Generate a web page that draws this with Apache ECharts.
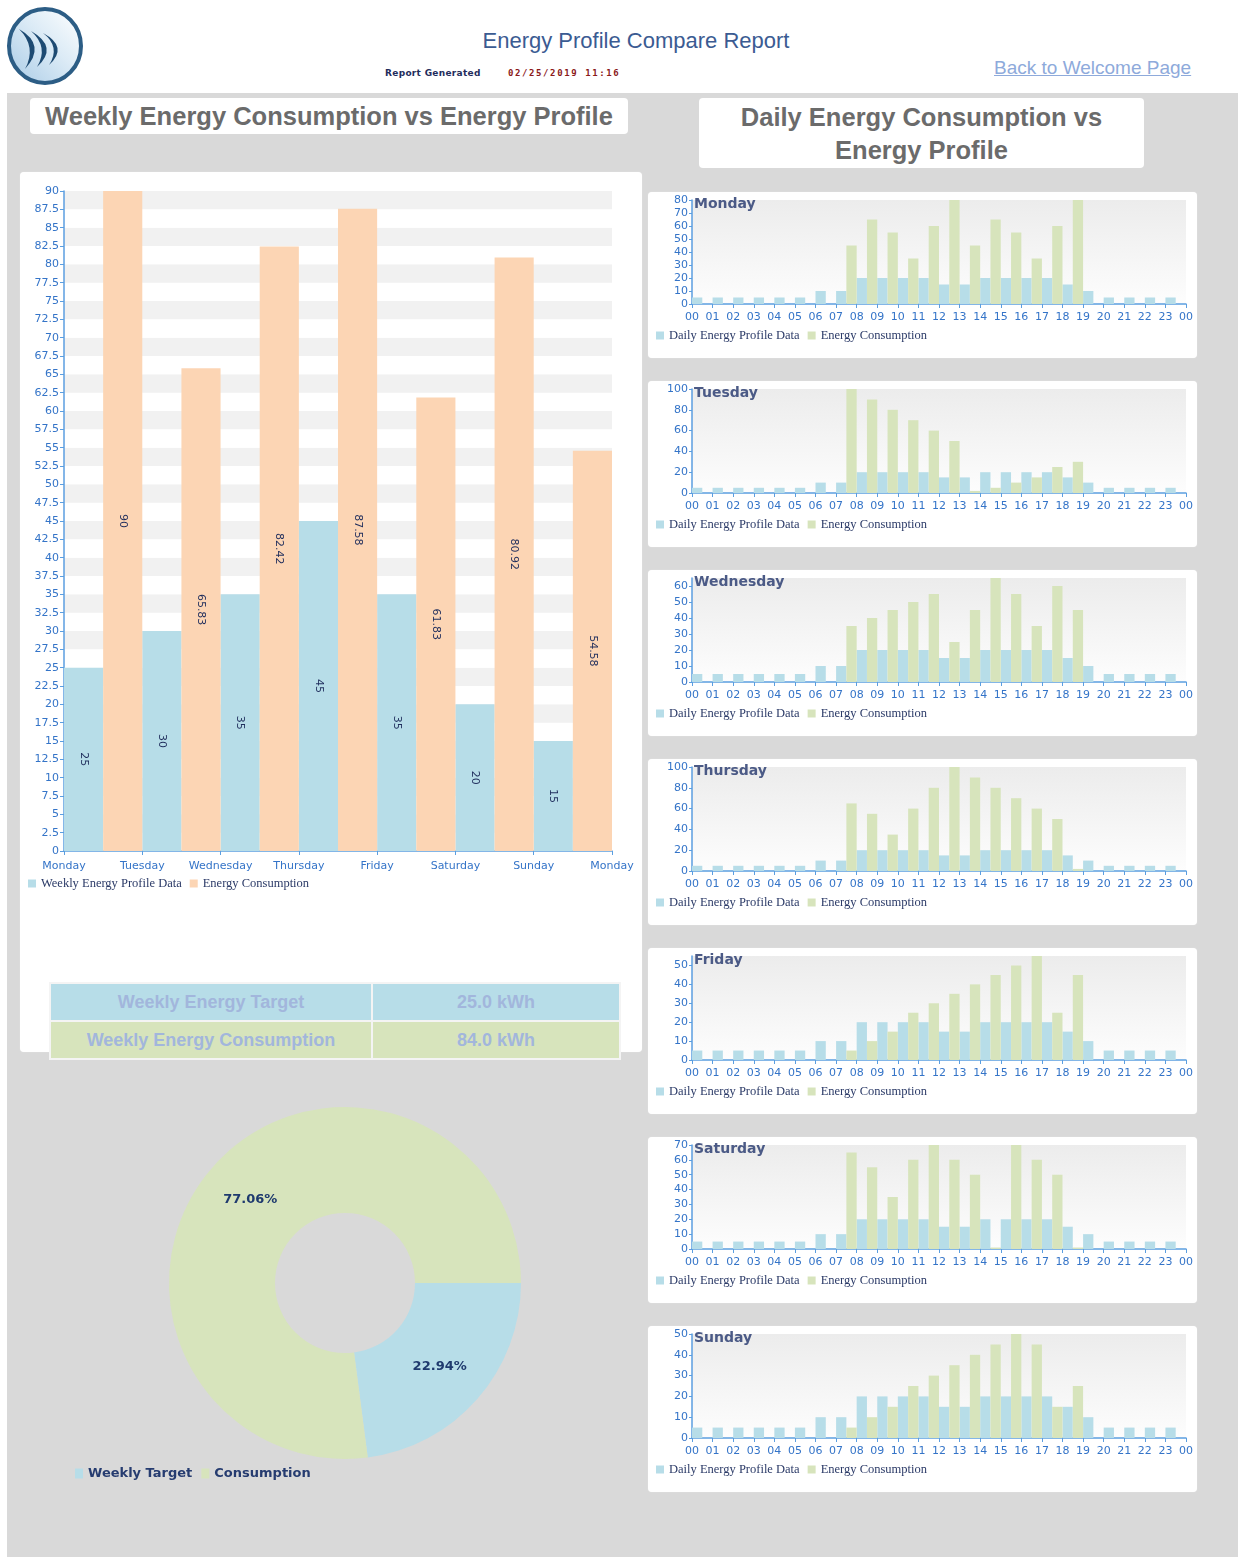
<!DOCTYPE html>
<html><head><meta charset="utf-8">
<script src="https://cdn.jsdelivr.net/npm/echarts@6/dist/echarts.min.js"></script>
<style>
body{margin:0;width:1238px;height:1557px;position:relative;background:#fff;font-family:"Liberation Sans",Arial,sans-serif;overflow:hidden}
.abs{position:absolute}
.panel{position:absolute;background:#fff;border-radius:4px;box-shadow:0 0 1px #eee}
.ttl{position:absolute;background:#fff;border-radius:4px;color:#6b6b6b;font-weight:bold;font-size:25.5px;text-align:center;white-space:nowrap}
#tbl{position:absolute;left:49px;top:982px;width:572px;border-collapse:collapse;z-index:5}
#tbl td{height:36px;border:2px solid #f4f4f4;text-align:center;font-weight:bold;font-size:18px;color:#a2b6dc;padding:0}
</style></head><body>
<svg class="abs" style="left:5px;top:5px" width="82" height="82" viewBox="0 0 82 82">
 <defs><linearGradient id="lg" x1="0" y1="1" x2="1" y2="0"><stop offset="0" stop-color="#a9cbe6"/><stop offset="0.55" stop-color="#dcebf6"/><stop offset="1" stop-color="#ffffff"/></linearGradient></defs>
 <ellipse cx="40" cy="41" rx="36" ry="37" fill="url(#lg)" stroke="#2c5d85" stroke-width="4"/>
 <path d="M14 24 Q42 40 20 64 Q32 42 14 24Z" fill="#1d4a72"/>
 <path d="M26 26 Q54 42 32 62 Q44 42 26 26Z" fill="#1d4a72"/>
 <path d="M38 28 Q64 42 44 60 Q56 42 38 28Z" fill="#1d4a72"/>
</svg>
<div class="abs" style="left:0;width:1272px;top:28px;text-align:center;font-size:22px;color:#3b5b92">Energy Profile Compare Report</div>
<div class="abs" style="left:385px;top:68px;font-size:9px;font-weight:bold;color:#1f2d5c;font-family:'DejaVu Sans',sans-serif;letter-spacing:0.3px">Report Generated</div>
<div class="abs" style="left:508px;top:68px;font-size:9px;font-weight:bold;color:#8b1a1a;font-family:'DejaVu Sans Mono',monospace;letter-spacing:1.6px">02/25/2019 11:16</div>
<div class="abs" style="left:994px;top:57px;font-size:19px;color:#8eaadb;text-decoration:underline">Back to Welcome Page</div>
<div class="abs" style="left:7px;top:93px;width:1231px;height:1464px;background:#d9d9d9"></div>
<div class="ttl" style="left:30px;top:98px;width:598px;height:36px;line-height:36px">Weekly Energy Consumption vs Energy Profile</div>
<div class="ttl" style="left:699px;top:98px;width:445px;height:70px;line-height:33px;padding-top:3px;box-sizing:border-box">Daily Energy Consumption vs<br>Energy Profile</div>
<div class="panel" style="left:20px;top:172px;width:622px;height:880px"></div>
<div id="dp"></div>
<table id="tbl"><tr style="background:#b7dde8"><td style="width:320px" id="t1"></td><td id="t2"></td></tr><tr style="background:#d7e4bc"><td id="t3"></td><td id="t4"></td></tr></table>
<div id="chart" class="abs" style="left:0;top:0;width:1238px;height:1557px;z-index:3"></div>
<script>
// ---------- data ----------
const weekTickLabels = ['Monday','Tuesday','Wednesday','Thursday','Friday','Saturday','Sunday','Monday'];
const weekDays = ['Monday','Tuesday','Wednesday','Thursday','Friday','Saturday','Sunday'];
const weeklyProfile = [25, 30, 35, 45, 35, 20, 15];
const weeklyConsumption = [90, 65.83, 82.42, 87.58, 61.83, 80.92, 54.58];

const hourTickLabels = ['00','01','02','03','04','05','06','07','08','09','10','11','12','13','14','15','16','17','18','19','20','21','22','23','00'];
const hours = ['00','01','02','03','04','05','06','07','08','09','10','11','12','13','14','15','16','17','18','19','20','21','22','23'];
const dailyProfile = [5,5,5,5,5,5,10,10,20,20,20,20,15,15,20,20,20,20,15,10,5,5,5,5];
const mondayConsumption    = [0,0,0,0,0,0,0,45,65,55,35,60,80,45,65,55,35,60,80,0,0,0,0,0];
const tuesdayConsumption   = [0,0,0,0,0,0,0,100,90,80,70,60,50,2,5,10,15,25,30,0,0,0,0,0];
const wednesdayConsumption = [0,0,0,0,0,0,0,35,40,45,50,55,25,45,65,55,35,60,45,0,0,0,0,0];
const thursdayConsumption  = [0,0,0,0,0,0,0,65,55,35,60,80,100,90,80,70,60,50,2,0,0,0,0,0];
const fridayConsumption    = [0,0,0,0,0,0,0,5,10,15,25,30,35,40,45,50,55,25,45,0,0,0,0,0];
const saturdayConsumption  = [0,0,0,0,0,0,0,65,55,35,60,70,60,50,1,70,60,50,1,0,0,0,0,0];
const sundayConsumption    = [0,0,0,0,0,0,0,5,10,15,25,30,35,40,45,50,45,15,25,0,0,0,0,0];
const dayAxisMax = [80, 100, 65, 100, 55, 70, 50];
const dayAxisStep = [10, 20, 10, 20, 10, 10, 10];

const pieNames = ['Weekly Target', 'Consumption'];
const pieValues = [25, 84];
const tableLabels = ['Weekly Energy Target', 'Weekly Energy Consumption'];

// ---------- layout / styles ----------
const dailyConsumption = [mondayConsumption,tuesdayConsumption,wednesdayConsumption,thursdayConsumption,fridayConsumption,saturdayConsumption,sundayConsumption];
const BLUE='#b7dde8', ORANGE='#fcd5b4', GREEN='#d7e4bc';
const AXIS='#5b9ee0', LBL='#3474c8', FF='DejaVu Sans', LEGC='#2b3a67';

document.getElementById('t1').textContent = tableLabels[0];
document.getElementById('t2').textContent = pieValues[0].toFixed(1)+' kWh';
document.getElementById('t3').textContent = tableLabels[1];
document.getElementById('t4').textContent = pieValues[1].toFixed(1)+' kWh';

let ph='';
for(let i=0;i<7;i++) ph += '<div class="panel" style="left:648px;top:'+(192+189*i)+'px;width:549px;height:166px"></div>';
document.getElementById('dp').innerHTML = ph;

const grids=[], xAxes=[], yAxes=[], series=[], legends=[], titles=[];
function axLine(){return {show:true,lineStyle:{color:AXIS,width:1.5}};}
function axTick(){return {show:true,length:4,lineStyle:{color:AXIS}};}

// weekly chart
grids.push({left:64, top:191, width:548, height:660, containLabel:false});
xAxes.push({type:'category', gridIndex:0, position:'top', data:weekDays, show:false});
xAxes.push({type:'value', gridIndex:0, position:'bottom', min:0, max:7, interval:1,
  axisLine:axLine(), axisTick:axTick(), splitLine:{show:false},
  axisLabel:{formatter:v=>weekTickLabels[v], color:LBL, fontSize:11, fontFamily:FF, margin:10}});
yAxes.push({type:'value', gridIndex:0, min:0, max:90, interval:2.5,
  axisLine:axLine(), axisTick:axTick(), splitLine:{show:false},
  splitArea:{show:true, areaStyle:{color:['#ffffff','#f1f1f1']}},
  axisLabel:{color:LBL, fontSize:11, fontFamily:FF, margin:5}});
const barLbl = {show:true, position:'inside', rotate:-90, color:'#1f2d5c', fontSize:11, fontFamily:FF};
series.push({type:'bar', name:'Weekly Energy Profile Data', xAxisIndex:0, yAxisIndex:0, data:weeklyProfile,
  barGap:'0%', barCategoryGap:'0%', itemStyle:{color:BLUE}, label:barLbl});
series.push({type:'bar', name:'Energy Consumption', xAxisIndex:0, yAxisIndex:0, data:weeklyConsumption,
  barGap:'0%', barCategoryGap:'0%', itemStyle:{color:ORANGE}, label:barLbl});
legends.push({left:28, top:877, padding:0, itemWidth:8, itemHeight:8, itemGap:8, icon:'rect', selectedMode:false,
  textStyle:{fontSize:12.5, fontFamily:'Liberation Serif', color:LEGC},
  data:[{name:'Weekly Energy Profile Data', itemStyle:{color:BLUE}},{name:'Energy Consumption', itemStyle:{color:ORANGE}}]});

// daily charts
for(let d=0; d<7; d++){
  const pt = 192 + 189*d;
  const gi = grids.length;
  const top = pt + 8;
  grids.push({left:692, top:top, width:494, height:104, show:true, borderWidth:0,
    backgroundColor:new echarts.graphic.LinearGradient(0,0,0,1,[{offset:0,color:'#ececec'},{offset:1,color:'#fdfdfd'}])});
  const xc = xAxes.length;
  xAxes.push({type:'category', gridIndex:gi, position:'top', data:hours, show:false});
  xAxes.push({type:'value', gridIndex:gi, position:'bottom', min:0, max:24, interval:1,
    axisLine:axLine(), axisTick:axTick(), splitLine:{show:false},
    axisLabel:{formatter:v=>hourTickLabels[v], color:LBL, fontSize:11, fontFamily:FF, margin:8}});
  const yi = yAxes.length;
  yAxes.push({type:'value', gridIndex:gi, min:0, max:dayAxisMax[d], interval:dayAxisStep[d],
    axisLine:axLine(), axisTick:{show:true,length:3,lineStyle:{color:AXIS}}, splitLine:{show:false},
    axisLabel:{color:LBL, fontSize:11, fontFamily:FF, margin:4, showMaxLabel: dayAxisMax[d] % dayAxisStep[d] === 0}});
  series.push({type:'bar', name:'Daily Energy Profile Data', xAxisIndex:xc, yAxisIndex:yi, data:dailyProfile,
    barGap:'0%', barCategoryGap:'0%', itemStyle:{color:BLUE}});
  series.push({type:'bar', name:'Energy Consumption', xAxisIndex:xc, yAxisIndex:yi, data:dailyConsumption[d],
    barGap:'0%', barCategoryGap:'0%', itemStyle:{color:GREEN}});
  legends.push({left:656, top:pt+137, padding:0, itemWidth:8, itemHeight:8, itemGap:8, icon:'rect', selectedMode:false,
    textStyle:{fontSize:12.5, fontFamily:'Liberation Serif', color:LEGC},
    data:[{name:'Daily Energy Profile Data', itemStyle:{color:BLUE}},{name:'Energy Consumption', itemStyle:{color:GREEN}}]});
  titles.push({text:weekDays[d], left:694, top:top-3, padding:0,
    textStyle:{fontSize:14, fontWeight:'bold', color:'#4b5a86', fontFamily:FF}});
}

// pie
series.push({type:'pie', center:[345,1283], radius:[70,176], startAngle:0, clockwise:true,
  label:{show:true, position:'inside', formatter:'{d}%', color:'#1f3a6e', fontSize:13, fontWeight:'bold', fontFamily:FF},
  labelLine:{show:false}, emphasis:{disabled:true},
  data:pieNames.map((n,i)=>({name:n, value:pieValues[i], itemStyle:{color:[BLUE,GREEN][i]}}))});
legends.push({left:75, top:1467, padding:0, itemWidth:8, itemHeight:10, itemGap:9, icon:'rect', selectedMode:false,
  textStyle:{fontSize:13, fontWeight:'bold', color:'#263c70', fontFamily:FF}, data:pieNames});

const chart = echarts.init(document.getElementById('chart'), null, {renderer:'canvas'});
chart.setOption({animation:false, backgroundColor:'transparent', title:titles, grid:grids, xAxis:xAxes, yAxis:yAxes, legend:legends, series:series});
</script>
</body></html>
